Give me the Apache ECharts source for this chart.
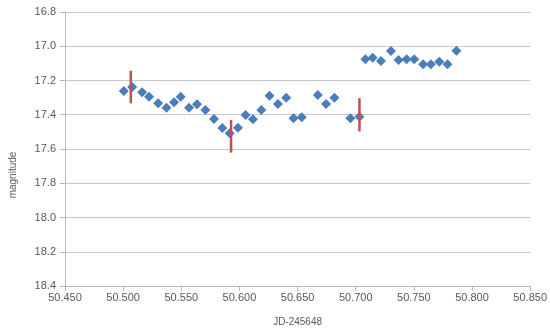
<!DOCTYPE html>
<html>
<head>
<meta charset="utf-8">
<script src="https://cdn.jsdelivr.net/npm/echarts@6/dist/echarts.min.js"></script>
<style>html,body{margin:0;padding:0;background:#fff}#c{width:550px;height:332px}</style>
</head>
<body>
<div id="c"></div>
<script>
const jd = [50.5006,50.5078,50.5163,50.5223,50.5301,50.5373,50.5438,50.5495,50.5567,50.5635,50.5707,50.5781,50.5853,50.5916,50.5987,50.6053,50.6116,50.6188,50.6259,50.6331,50.6402,50.6465,50.6536,50.6674,50.6745,50.6817,50.6954,50.7032,50.7083,50.7145,50.7217,50.7303,50.7368,50.7437,50.7503,50.7580,50.7646,50.7718,50.7789,50.7866];
const mag = [17.261,17.238,17.269,17.295,17.333,17.359,17.327,17.295,17.359,17.339,17.372,17.425,17.477,17.508,17.476,17.401,17.427,17.372,17.289,17.337,17.300,17.421,17.415,17.285,17.337,17.300,17.421,17.411,17.076,17.067,17.086,17.028,17.080,17.076,17.076,17.105,17.105,17.090,17.105,17.026];
const errJD = [50.5066,50.5928,50.7032];
const errMid = [17.238,17.526,17.400];
const errHalf = [0.095,0.095,0.097];
const xTicks = ['50.450','50.500','50.550','50.600','50.650','50.700','50.750','50.800','50.850'];
const yTicks = ['16.8','17.0','17.2','17.4','17.6','17.8','18.0','18.2','18.4'];

const points = jd.map((x,i)=>[x,mag[i]]);
const errData = errJD.map((x,i)=>[x, errMid[i]-errHalf[i], errMid[i]+errHalf[i]]);
const font = 'Liberation Sans';
const chart = echarts.init(document.getElementById('c'));
chart.setOption({
  animation:false,
  grid:{left:65,right:19,top:12,bottom:46},
  xAxis:{type:'value',min:50.45,max:50.85,interval:0.05,
    name:'JD-245648',nameLocation:'middle',nameGap:31,
    nameTextStyle:{fontFamily:font,fontSize:10,color:'#595959'},
    axisLine:{show:true,lineStyle:{color:'#b9b9b9'}},
    axisTick:{show:true,length:5,lineStyle:{color:'#b9b9b9'}},
    splitLine:{show:false},
    axisLabel:{fontFamily:font,fontSize:11,color:'#595959',margin:6,
      formatter:v=>{const i=Math.round((v-50.45)/0.05);return xTicks[i]!==undefined?xTicks[i]:v.toFixed(3);}}},
  yAxis:{type:'value',inverse:true,min:16.8,max:18.4,interval:0.2,
    axisLine:{show:true,lineStyle:{color:'#b9b9b9'}},
    axisTick:{show:true,length:5,lineStyle:{color:'#b9b9b9'}},
    splitLine:{show:true,lineStyle:{color:'#c8c8c8'}},
    axisLabel:{fontFamily:font,fontSize:11,color:'#595959',margin:9,
      formatter:v=>{const i=Math.round((v-16.8)/0.2);return yTicks[i]!==undefined?yTicks[i]:v.toFixed(1);}}},
  graphic:[{type:'text',left:7,top:148,rotation:Math.PI/2,
    style:{text:'magnitude',font:'10px '+font,fill:'#595959',textAlign:'center',textVerticalAlign:'middle'},
    x:13,y:175,left:null,top:null}],
  series:[
    {type:'scatter',data:points,symbol:'diamond',symbolSize:10,
      itemStyle:{color:'#4a7ebb',opacity:1},z:2},
    {type:'custom',data:errData,z:3,
      renderItem:(params,api)=>{
        const p1=api.coord([api.value(0),api.value(1)]);
        const p2=api.coord([api.value(0),api.value(2)]);
        return {type:'line',shape:{x1:p1[0],y1:p1[1],x2:p2[0],y2:p2[1]},
          style:{stroke:'#c0504d',lineWidth:2.5}};
      },
      encode:{x:0,y:[1,2]}}
  ]
});
</script>
</body>
</html>
